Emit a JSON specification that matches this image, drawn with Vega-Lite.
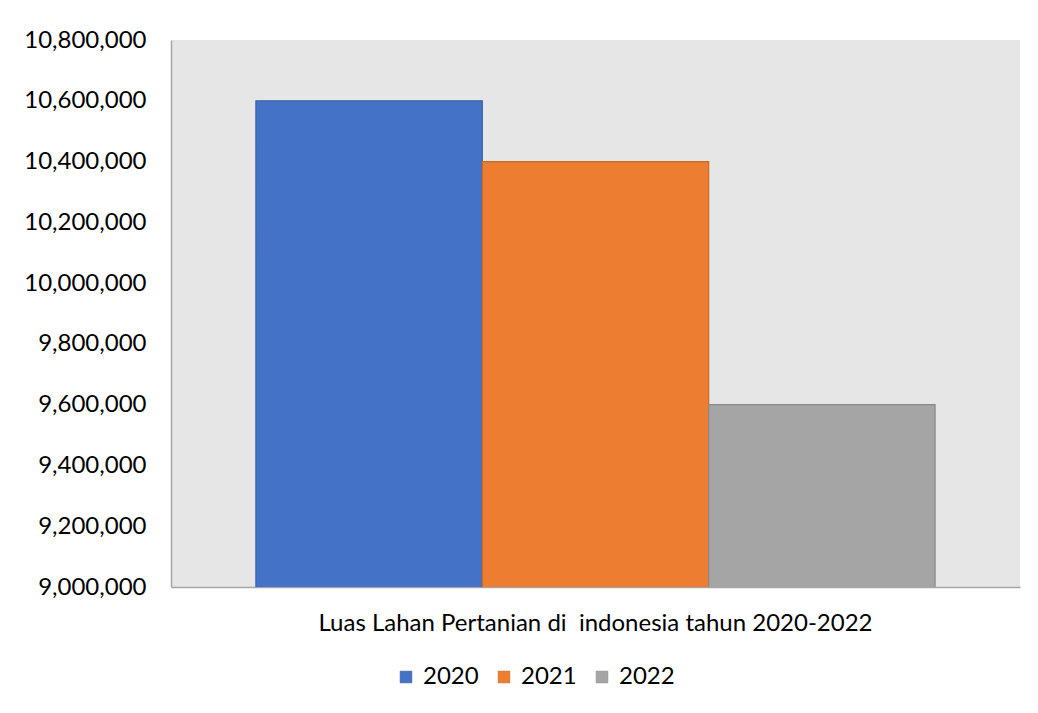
{
  "$schema": "https://vega.github.io/schema/vega-lite/v6.json",
  "width": 849,
  "height": 547,
  "autosize": {"type": "none"},
  "padding": {"left": 171, "top": 40, "right": 18, "bottom": 126},
  "background": "#FFFFFF",
  "data": {
    "values": [
      {"kategori": "Luas Lahan Pertanian di \u00a0indonesia tahun 2020-2022", "tahun": "2020", "luas": 10600000},
      {"kategori": "Luas Lahan Pertanian di \u00a0indonesia tahun 2020-2022", "tahun": "2021", "luas": 10400000},
      {"kategori": "Luas Lahan Pertanian di \u00a0indonesia tahun 2020-2022", "tahun": "2022", "luas": 9600000}
    ]
  },
  "mark": {"type": "bar", "clip": true, "strokeWidth": 1.2},
  "encoding": {
    "x": {
      "field": "kategori",
      "type": "nominal",
      "scale": {"paddingOuter": 0.125, "paddingInner": 0},
      "axis": {
        "title": null,
        "labelAngle": 0,
        "labelFontSize": 24,
        "labelFont": "Lato",
        "labelColor": "#000000",
        "labelPadding": 24,
        "ticks": false,
        "domainColor": "#A6A6A6",
        "domainWidth": 1.5,
        "labelLimit": 1000
      }
    },
    "xOffset": {
      "field": "tahun",
      "type": "nominal",
      "scale": {"paddingInner": 0, "paddingOuter": 0}
    },
    "y": {
      "field": "luas",
      "type": "quantitative",
      "scale": {"domain": [9000000, 10800000], "zero": false, "nice": false},
      "axis": {
        "title": null,
        "values": [9000000, 9200000, 9400000, 9600000, 9800000, 10000000, 10200000, 10400000, 10600000, 10800000],
        "format": ",d",
        "grid": false,
        "ticks": false,
        "labelFontSize": 24,
        "labelFont": "Lato",
        "labelColor": "#000000",
        "labelPadding": 25,
        "domainColor": "#A6A6A6",
        "domainWidth": 1.5
      }
    },
    "color": {
      "field": "tahun",
      "type": "nominal",
      "scale": {"domain": ["2020", "2021", "2022"], "range": ["#4472C4", "#ED7D31", "#A5A5A5"]},
      "legend": {
        "title": null,
        "orient": "none",
        "direction": "horizontal",
        "legendX": 223,
        "legendY": 625,
        "symbolType": "square",
        "symbolSize": 140,
        "symbolStrokeWidth": 0.5,
        "labelFontSize": 24,
        "labelFont": "Lato",
        "labelColor": "#000000",
        "labelOffset": 5,
        "columnPadding": 13
      }
    },
    "stroke": {
      "field": "tahun",
      "type": "nominal",
      "scale": {"domain": ["2020", "2021", "2022"], "range": ["#3A62AA", "#C96A29", "#8A8A8A"]},
      "legend": null
    }
  },
  "config": {
    "view": {"fill": "#E7E6E6", "stroke": null}
  }
}
